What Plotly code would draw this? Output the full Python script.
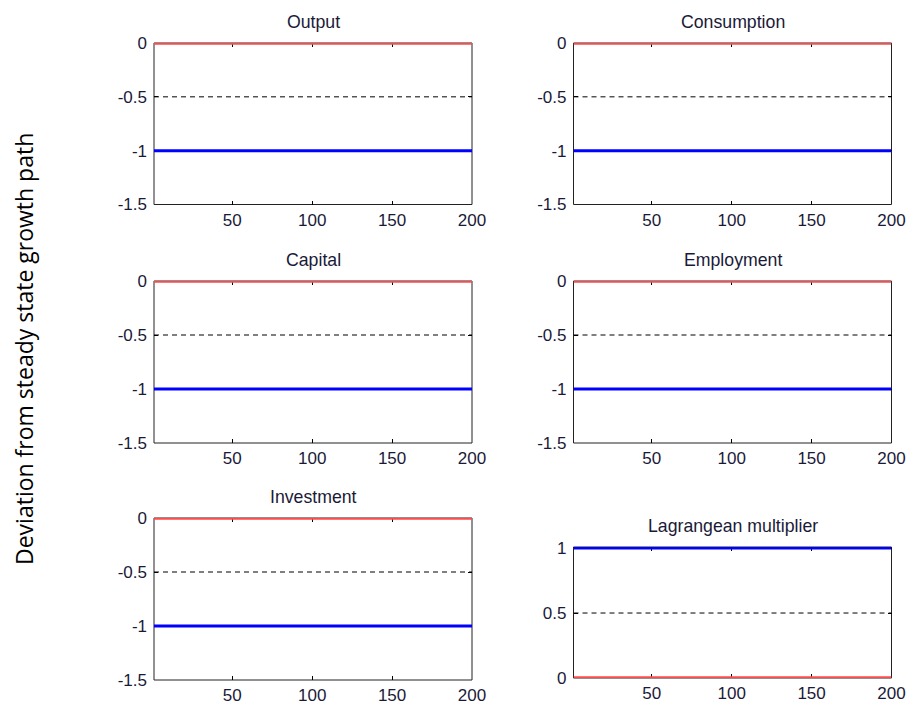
import plotly.graph_objects as go

# Simulation horizon and panel titles
periods = list(range(1, 201))
panel_titles = ["Output", "Consumption", "Capital", "Employment",
                "Investment", "Lagrangean multiplier"]

# Level of each plotted path per panel (deviation from steady state growth path)
steady_state = [0, 0, 0, 0, 0, 0]                   # red line
midpoint_ref = [-0.5, -0.5, -0.5, -0.5, -0.5, 0.5]  # dashed black reference
response = [-1, -1, -1, -1, -1, 1]                  # blue line

# Axis ticks
x_ticks = [50, 100, 150, 200]
y_ticks_neg = [0, -0.5, -1, -1.5]
y_ticks_pos = [0, 0.5, 1]

W, H = 909, 704

# Panel boxes in pixels: (left, right, top, bottom)
boxes = [
    (154, 472, 43, 204.5),
    (573.5, 891.5, 43, 204.5),
    (154, 472, 281, 443),
    (573.5, 891.5, 281, 443),
    (154, 472, 518, 680),
    (573.5, 891.5, 547, 678),
]

TEXT = "#1a1a38"
FONT = "Liberation Sans, Arial, sans-serif"
fig = go.Figure()
layout = dict(
    template="none",
    width=W, height=H, margin=dict(l=0, r=0, t=0, b=0, pad=0, autoexpand=False),
    paper_bgcolor="white", plot_bgcolor="white", showlegend=False,
    font=dict(family=FONT, size=17, color=TEXT),
)
annotations = []
shapes = []

for i in range(6):
    n = len(periods)
    xa = "x" if i == 0 else f"x{i+1}"
    ya = "y" if i == 0 else f"y{i+1}"
    # Dashed reference line
    fig.add_trace(go.Scatter(x=periods, y=[midpoint_ref[i]] * n, mode="lines",
                             line=dict(color="black", width=1, dash="5px,4px"),
                             xaxis=xa, yaxis=ya))
    # Steady state path
    fig.add_trace(go.Scatter(x=periods, y=[steady_state[i]] * n, mode="lines",
                             line=dict(color="#ff4b4b", width=3.4),
                             xaxis=xa, yaxis=ya))
    # Response path
    fig.add_trace(go.Scatter(x=periods, y=[response[i]] * n, mode="lines",
                             line=dict(color="#0000ff", width=3),
                             xaxis=xa, yaxis=ya))

    l, r, t, b = boxes[i]
    xkey = "xaxis" if i == 0 else f"xaxis{i+1}"
    ykey = "yaxis" if i == 0 else f"yaxis{i+1}"
    if i < 5:
        yt, yr = y_ticks_neg, [-1.5, 0]
    else:
        # small headroom so the thick line at 1 is not cut by the box edge
        yt, yr = y_ticks_pos, [0, 1.008]
    common = dict(
        ticks="inside", ticklen=4, tickwidth=1, tickcolor="black",
        showline=False, mirror="allticks", showgrid=False, zeroline=False,
        layer="below traces", fixedrange=True, automargin=False,
        tickfont=dict(size=17, color=TEXT, family=FONT),
    )
    layout[xkey] = dict(
        domain=[l / W, r / W], anchor=ya, range=[1, 200],
        tickvals=x_ticks, ticktext=[str(v) for v in x_ticks],
        ticklabelstandoff=3, **common,
    )
    layout[ykey] = dict(
        domain=[1 - b / H, 1 - t / H], anchor=xa, range=yr,
        tickvals=yt, ticktext=[("%g" % v) for v in yt],
        ticklabelstandoff=6, **common,
    )
    # Axes box
    shapes.append(dict(
        type="rect", xref=f"{xa} domain", yref=f"{ya} domain",
        x0=0, x1=1, y0=0, y1=1, layer="below",
        line=dict(color="#222222", width=1), fillcolor="rgba(0,0,0,0)",
    ))
    annotations.append(dict(
        text=panel_titles[i], x=(l + r) / 2 / W, y=1 - (t - 21) / H,
        xref="paper", yref="paper", showarrow=False,
        xanchor="center", yanchor="middle",
        font=dict(size=17.7, color=TEXT, family=FONT),
    ))

annotations.append(dict(
    text="Deviation from steady state growth path", x=24 / W, y=1 - 349 / H,
    xref="paper", yref="paper", showarrow=False, textangle=-90,
    xanchor="center", yanchor="middle",
    font=dict(size=23, color="black", family="Open Sans, sans-serif"),
))
layout["annotations"] = annotations
layout["shapes"] = shapes
fig.update_layout(**layout)
fig.write_html("out.html")
